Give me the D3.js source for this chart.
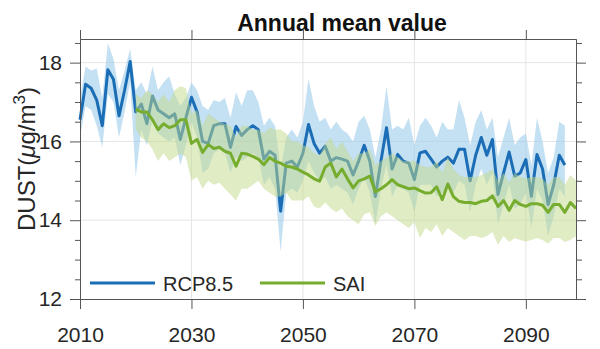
<!DOCTYPE html>
<html>
<head>
<meta charset="utf-8">
<script src="https://d3js.org/d3.v7.min.js"></script>
<style>
  body { margin: 0; background: #fff; }
  text { font-family: "Liberation Sans", Arial, sans-serif; fill: #262626; }
</style>
</head>
<body>
<div id="chart"></div>
<script>
// ---- data ----
var rcpStart = 2010;
var rcpMean = [16.55, 17.45, 17.35, 17.05, 16.4, 17.82, 17.58, 16.65, 17.3, 18.03,
               16.75, 16.95, 16.45, 17.15, 16.8, 16.7, 16.6, 16.7, 16.05, 16.6,
               17.12, 16.75, 16.0, 15.95, 16.4, 16.45, 16.45, 15.85, 16.38, 16.15,
               16.3, 16.4, 16.3, 15.55, 15.75, 15.65, 14.23, 15.45, 15.5, 15.35,
               15.7, 16.43, 15.95, 15.7, 15.88, 15.5, 15.59, 15.55, 15.5, 15.15,
               15.5, 15.9, 15.5, 14.6, 15.5, 16.35, 15.3, 15.67, 15.5, 15.45,
               15.03, 15.71, 15.75, 15.55, 15.35, 15.5, 15.6, 15.45, 15.8, 15.8,
               15.0, 15.65, 16.1, 15.65, 16.05, 14.65, 15.2, 15.73, 15.12, 15.2,
               15.54, 14.61, 15.67, 15.3, 14.4, 14.9, 15.65, 15.4];
var rcpUpper = [17.1, 17.9, 17.8, 17.85, 17.1, 18.5, 18.1, 17.3, 17.8, 18.35,
                17.3, 17.5, 17.2, 17.9, 17.3, 17.5, 17.65, 17.2, 16.9, 17.1,
                17.5, 17.3, 16.9, 16.8, 17.05, 17.0, 17.1, 16.6, 17.25, 16.9,
                17.3, 17.3, 17.0, 16.4, 16.6, 16.4, 15.3, 16.1, 16.3, 16.1,
                16.5, 17.6, 16.9, 16.5, 16.6, 16.3, 16.5, 16.3, 16.2, 16.0,
                16.5, 16.65, 16.3, 15.6, 16.3, 17.4, 16.3, 16.4, 16.3, 16.6,
                15.9, 16.4, 16.6, 16.4, 16.1, 16.5, 16.3, 16.3, 17.05, 16.6,
                15.9, 16.5, 16.8, 16.3, 16.6, 15.6, 16.1, 16.6, 15.9, 16.1,
                16.2, 15.4, 16.6, 16.0, 15.2, 15.6, 16.5, 16.4];
var rcpLower = [16.1, 16.9, 16.8, 16.4, 15.85, 17.2, 17.0, 16.1, 16.75, 17.5,
                15.1, 16.3, 15.9, 16.55, 16.2, 16.1, 16.0, 16.1, 15.4, 15.9,
                16.5, 16.1, 15.2, 15.3, 15.7, 15.8, 15.7, 15.2, 15.6, 15.5,
                15.6, 15.7, 15.6, 14.9, 15.1, 14.8, 13.2, 14.7, 14.8, 14.7,
                15.0, 15.5, 15.2, 15.0, 15.1, 14.8, 14.9, 14.8, 14.7, 14.4,
                14.8, 15.1, 14.7, 13.9, 14.8, 15.4, 14.6, 14.9, 14.8, 14.7,
                14.2, 14.9, 14.9, 14.9, 14.6, 14.7, 14.8, 14.7, 15.0, 14.9,
                14.2, 14.9, 15.3, 14.9, 15.2, 13.9, 14.4, 14.9, 14.3, 14.4,
                14.7, 13.8, 14.8, 14.5, 13.6, 14.1, 14.8, 14.6];

var saiStart = 2020;
var saiMean = [16.82, 16.75, 16.75, 16.55, 16.3, 16.45, 16.35, 16.4, 16.55, 16.55,
               15.95, 16.05, 15.72, 15.92, 15.82, 15.85, 15.75, 15.7, 15.37, 15.7,
               15.68, 15.62, 15.55, 15.41, 15.59, 15.5, 15.45, 15.37, 15.35, 15.3,
               15.22, 15.15, 15.05, 14.99, 15.35, 15.45, 15.1, 15.3, 15.05, 14.82,
               15.0, 15.05, 15.12, 14.72, 14.8, 14.9, 15.03, 14.9, 14.85, 14.8,
               14.82, 14.75, 14.69, 14.7, 14.85, 14.52, 14.92, 14.6, 14.48, 14.45,
               14.45, 14.42, 14.48, 14.5, 14.62, 14.35, 14.5, 14.25, 14.5, 14.4,
               14.35, 14.42, 14.42, 14.38, 14.2, 14.4, 14.4, 14.2, 14.45, 14.3];
var saiUpper = [17.2, 17.1, 17.3, 17.2, 17.0, 17.2, 17.0, 17.3, 17.4, 17.35,
                16.7, 16.8, 16.4, 16.7, 16.6, 16.5, 16.45, 16.4, 16.1, 16.4,
                16.4, 16.3, 16.3, 16.2, 16.35, 16.3, 16.3, 16.2, 16.0, 16.0,
                15.9, 15.85, 15.7, 15.65, 15.95, 16.1, 15.8, 16.0, 15.75, 15.5,
                15.7, 15.7, 15.8, 15.4, 15.5, 15.6, 15.7, 15.6, 15.5, 15.5,
                15.5, 15.4, 15.35, 15.35, 15.5, 15.2, 15.6, 15.3, 15.15, 15.1,
                15.1, 15.1, 15.15, 15.2, 15.3, 15.0, 15.2, 14.95, 15.2, 15.1,
                15.05, 15.1, 15.1, 15.05, 14.9, 15.1, 15.1, 14.9, 15.15, 15.0];
var saiLower = [16.3, 16.1, 16.0, 15.8, 15.5, 15.7, 15.5, 15.6, 15.7, 15.6,
                15.0, 15.1, 14.8, 15.0, 14.9, 14.95, 14.8, 14.65, 14.5, 14.8,
                14.8, 14.9, 15.0, 14.8, 14.7, 14.6, 14.6, 14.7, 14.5, 14.5,
                14.5, 14.6, 14.35, 14.3, 14.45, 14.3, 14.2, 14.3, 14.1, 14.0,
                13.9, 14.15, 14.2, 13.85, 14.1, 14.2, 14.1, 14.0, 13.9, 13.8,
                13.95, 13.55, 13.8, 13.7, 13.9, 13.6, 13.8, 13.7, 13.6, 13.5,
                13.6, 13.6, 13.55, 13.6, 13.7, 13.38, 13.6, 13.45, 13.55, 13.5,
                13.46, 13.5, 13.55, 13.5, 13.4, 13.55, 13.55, 13.45, 13.5, 13.6];

var xTicks = [2010, 2030, 2050, 2070, 2090];
var yTicks = [12, 14, 16, 18];
var yMinorTicks = [12.5, 13, 13.5, 14.5, 15, 15.5, 16.5, 17, 17.5, 18.5];
var legendNames = ["RCP8.5", "SAI"];

// ---- layout ----
var width = 600, height = 349;
var plotLeft = 80, plotRight = 576, plotTop = 39, plotBottom = 299;
var blue = "#1b6db5", green = "#76ad2f";

var svg = d3.select("#chart")
    .append("svg")
    .attr("width", width)
    .attr("height", height);

var x = d3.scaleLinear().domain([2010, 2099]).range([plotLeft, plotRight]);
var y = d3.scaleLinear().domain([12, 18.6]).range([plotBottom, plotTop]);

function toRows(start, mean, lo, hi) {
    return mean.map(function (v, i) {
        return {year: start + i, mean: v, lo: lo[i], hi: hi[i]};
    });
}
var rcp = toRows(rcpStart, rcpMean, rcpLower, rcpUpper);
var sai = toRows(saiStart, saiMean, saiLower, saiUpper);

// grid
var grid = svg.append("g").attr("class", "grid");

grid.selectAll("line.gx")
   .data(xTicks.slice(1))
   .enter()
   .append("line")
   .attr("class", "gx")
   .attr("x1", function (d) {return x(d);})
   .attr("x2", function (d) {return x(d);})
   .attr("y1", plotTop)
   .attr("y2", plotBottom)
   .style("stroke", "#e4e4e4");

grid.selectAll("line.gy")
   .data(yTicks.slice(1))
   .enter()
   .append("line")
   .attr("class", "gy")
   .attr("x1", plotLeft)
   .attr("x2", plotRight)
   .attr("y1", function (d) {return y(d);})
   .attr("y2", function (d) {return y(d);})
   .style("stroke", "#e4e4e4");

var area = d3.area()
    .x(function (d) {return x(d.year);})
    .y0(function (d) {return y(d.lo);})
    .y1(function (d) {return y(d.hi);});

var line = d3.line()
    .x(function (d) {return x(d.year);})
    .y(function (d) {return y(d.mean);});

var plot = svg.append("g").attr("class", "plot");

plot.append("path")
    .attr("d", area(rcp))
    .style("fill", "#9ccbeb")
    .style("opacity", 0.6);

plot.append("path")
    .attr("d", line(rcp))
    .style("fill", "none")
    .style("stroke", blue)
    .style("stroke-width", 3)
    .style("stroke-linejoin", "round");

plot.append("path")
    .attr("d", area(sai))
    .style("fill", "#c2da8a")
    .style("opacity", 0.5);

plot.append("path")
    .attr("d", line(sai))
    .style("fill", "none")
    .style("stroke", green)
    .style("stroke-width", 3)
    .style("stroke-linejoin", "round");

// axes
var axisColor = "#555";

function styleAxis(g) {
    g.selectAll("path, line").style("stroke", axisColor);
    g.selectAll("text").style("font-size", "21px").style("fill", "#262626")
     .style("font-family", "'Liberation Sans', Arial, sans-serif");
}

svg.append("g")
   .attr("transform", "translate(0," + plotBottom + ")")
   .call(d3.axisBottom(x).tickValues(xTicks).tickSize(10).tickPadding(18).tickSizeOuter(0).tickFormat(d3.format("d")))
   .call(styleAxis);

svg.append("g")
   .attr("transform", "translate(0," + plotTop + ")")
   .call(d3.axisTop(x).tickValues(xTicks).tickSize(9).tickSizeOuter(0).tickFormat(""))
   .call(styleAxis);

svg.append("g")
   .attr("transform", "translate(" + plotLeft + ",0)")
   .call(d3.axisLeft(y).tickValues(yTicks).tickSize(10).tickPadding(8).tickSizeOuter(0).tickFormat(d3.format("d")))
   .call(styleAxis);

svg.append("g")
   .attr("transform", "translate(" + plotLeft + ",0)")
   .call(d3.axisLeft(y).tickValues(yMinorTicks).tickSize(5).tickSizeOuter(0).tickFormat(""))
   .call(styleAxis);

svg.append("g")
   .attr("transform", "translate(" + plotRight + ",0)")
   .call(d3.axisRight(y).tickValues(yTicks).tickSize(10).tickSizeOuter(0).tickFormat(""))
   .call(styleAxis);

svg.append("g")
   .attr("transform", "translate(" + plotRight + ",0)")
   .call(d3.axisRight(y).tickValues(yMinorTicks).tickSize(6).tickSizeOuter(0).tickFormat(""))
   .call(styleAxis);

// title
svg.append("text")
   .attr("x", 342)
   .attr("y", 31)
   .style("text-anchor", "middle")
   .style("font-size", "23px")
   .style("font-weight", "bold")
   .style("fill", "#111")
   .text("Annual mean value");

// y label
var ylab = svg.append("text")
   .attr("transform", "translate(35,159) rotate(-90)")
   .style("text-anchor", "middle")
   .style("font-size", "24px");
ylab.append("tspan").text("DUST(");
ylab.append("tspan").style("font-style", "italic").text("\u03bc");
ylab.append("tspan").text("g/m");
ylab.append("tspan").attr("dy", -10).style("font-size", "17px").text("3");
ylab.append("tspan").attr("dy", 10).text(")");

// legend
var legend = svg.append("g").attr("class", "legend")
   .selectAll("g")
   .data([{name: legendNames[0], color: blue, x: 90}, {name: legendNames[1], color: green, x: 260}])
   .enter()
   .append("g");

legend.append("line")
   .attr("x1", function (d) {return d.x;})
   .attr("x2", function (d) {return d.x + 65;})
   .attr("y1", 283)
   .attr("y2", 283)
   .style("stroke", function (d) {return d.color;})
   .style("stroke-width", 3);

legend.append("text")
   .attr("x", function (d) {return d.x + 73;})
   .attr("y", 290.5)
   .style("font-size", "20px")
   .text(function (d) {return d.name;});
</script>
</body>
</html>
